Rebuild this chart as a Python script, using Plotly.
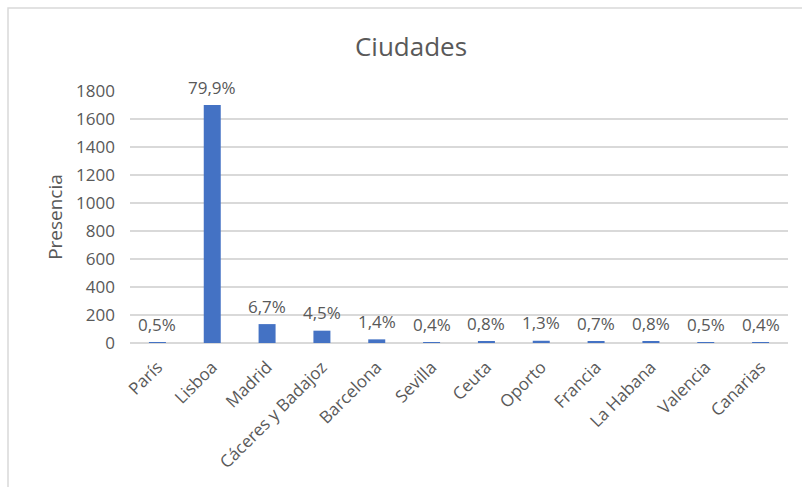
import plotly.graph_objects as go

# Ciudades y su presencia
ciudades = ["París", "Lisboa", "Madrid", "Cáceres y Badajoz", "Barcelona", "Sevilla",
            "Ceuta", "Oporto", "Francia", "La Habana", "Valencia", "Canarias"]
presencia = [1, 1700, 135, 88, 26, 1, 9, 16, 8, 8, 1, 1]
porcentajes = ["0,5%", "79,9%", "6,7%", "4,5%", "1,4%", "0,4%",
               "0,8%", "1,3%", "0,7%", "0,8%", "0,5%", "0,4%"]
y_ticks = [0, 200, 400, 600, 800, 1000, 1200, 1400, 1600, 1800]

TEXT = "#595959"
GRID = "#d9d9d9"
FONT = "Open Sans, Segoe UI, sans-serif"

fig = go.Figure(go.Bar(
    x=ciudades,
    y=presencia,
    marker=dict(color="#4472C4", line=dict(width=0)),
))

# percentage labels above each bar
for c, v, t in zip(ciudades, presencia, porcentajes):
    fig.add_annotation(x=c, y=v, text=t, showarrow=False, yanchor="middle",
                       yshift=18, font=dict(family=FONT, size=17, color=TEXT))

# chart frame
fig.add_shape(type="path", xref="paper", yref="paper",
              path="M -0.1854 -0.7 L -0.1854 1.3294 L 1.1 1.3294",
              line=dict(color=GRID, width=1.5))

fig.update_layout(
    width=802, height=487,
    margin=dict(l=130, r=14, t=91, b=144),
    paper_bgcolor="white", plot_bgcolor="white",
    bargap=0.69,
    showlegend=False,
    title=dict(text="Ciudades", xref="container", x=0.5125, xanchor="center",
               yref="container", y=1 - 47 / 487, yanchor="middle",
               font=dict(family=FONT, size=26, color=TEXT)),
    font=dict(family=FONT, size=17, color=TEXT),
)
fig.update_xaxes(tickangle=-45, showgrid=False, showline=False, ticks="",
                 ticklabelstandoff=10,
                 tickfont=dict(family=FONT, size=17, color=TEXT))
fig.update_yaxes(range=[0, 1800], tickvals=y_ticks, showgrid=True, gridcolor=GRID,
                 gridwidth=1.5, zeroline=True, zerolinecolor=GRID, zerolinewidth=1.5,
                 showline=False, ticks="", ticklabelstandoff=14,
                 tickfont=dict(family=FONT, size=17, color=TEXT),
                 title=dict(text="Presencia", standoff=8,
                            font=dict(family=FONT, size=19, color=TEXT)))

fig.write_html("out.html")
